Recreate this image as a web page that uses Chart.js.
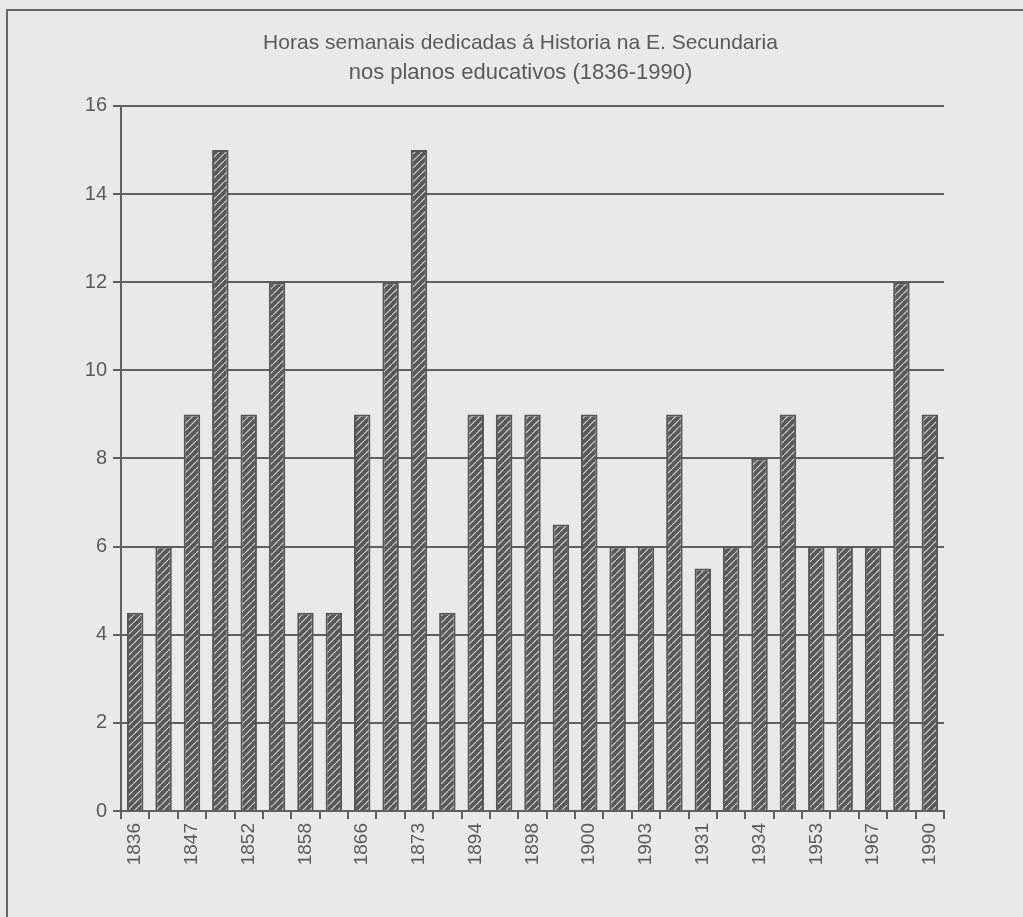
<!DOCTYPE html>
<html>
<head>
<meta charset="utf-8">
<title>Horas semanais de Historia</title>
<script src="https://cdn.jsdelivr.net/npm/chart.js@4/dist/chart.umd.min.js"></script>
<style>
    html, body {
        margin: 0;
        padding: 0;
        background: #e9e9e9;
        overflow: hidden;
    }
    #frame {
        position: absolute;
        left: 6px;
        top: 9px;
        width: 1100px;
        height: 1000px;
        border-left: 2px solid #666666;
        border-top: 2px solid #666666;
    }
    #wrap {
        position: absolute;
        left: 0;
        top: 0;
        width: 1023px;
        height: 917px;
    }
</style>
</head>
<body>
<div id="frame"></div>
<div id="wrap"><canvas id="myChart" width="1041" height="917"></canvas></div>

<script>
// plan years (only every other one is printed under the axis)
var years = ['1836', '', '1847', '', '1852', '', '1858', '', '1866', '', '1873', '', '1894', '',
    '1898', '', '1900', '', '1903', '', '1931', '', '1934', '', '1953', '', '1967', '', '1990'];

// weekly hours of History in each plan
var hours = [4.5, 6, 9, 15, 9, 12, 4.5, 4.5, 9, 12, 15, 4.5, 9, 9, 9, 6.5, 9, 6, 6, 9,
    5.5, 6, 8, 9, 6, 6, 6, 12, 9];

var yTicks = [0, 2, 4, 6, 8, 10, 12, 14, 16];

var titleLine = 'Horas semanais dedicadas á Historia na E. Secundaria';
var subtitleLine = 'nos planos educativos (1836-1990)';

var lineColor = '#606060';
var textColor = '#5a5a5a';
var fontName = "'Liberation Sans', Arial, sans-serif";

// hatched fill for the bars: dark grey with light diagonal strokes
function makeHatch() {
    var tile = document.createElement('canvas');
    tile.width = 7;
    tile.height = 7;
    var c = tile.getContext('2d');
    c.fillStyle = '#585858';
    c.fillRect(0, 0, 7, 7);
    c.strokeStyle = '#d2d2d2';
    c.lineWidth = 1.2;
    c.beginPath();
    c.moveTo(-1, 8);
    c.lineTo(8, -1);
    c.stroke();
    return c.createPattern(tile, 'repeat');
}

function drawChart() {
    var ctx = document.getElementById('myChart').getContext('2d');
    var hatch = makeHatch();

    var chart = new Chart(ctx, {
        type: 'bar',
        data: {
            labels: years,
            datasets: [{
                data: hours,
                backgroundColor: hatch,
                borderColor: '#555555',
                borderWidth: 2,
                borderSkipped: 'bottom',
                categoryPercentage: 1,
                barPercentage: 0.58
            }]
        },
        options: {
            responsive: false,
            animation: false,
            layout: { padding: 0 },
            plugins: {
                legend: { display: false },
                tooltip: { enabled: false },
                title: {
                    display: true,
                    text: titleLine,
                    color: textColor,
                    font: { family: fontName, size: 21, weight: 'normal', lineHeight: 1.3 },
                    padding: { top: 30, bottom: 1 }
                },
                subtitle: {
                    display: true,
                    text: subtitleLine,
                    color: textColor,
                    font: { family: fontName, size: 22, weight: 'normal', lineHeight: 1.3 },
                    padding: { top: 0, bottom: 19 }
                }
            },
            scales: {
                x: {
                    offset: true,
                    grid: {
                        offset: true,
                        drawOnChartArea: false,
                        color: lineColor,
                        lineWidth: 2,
                        tickLength: 8
                    },
                    border: { color: lineColor, width: 2 },
                    ticks: {
                        autoSkip: false,
                        minRotation: 90,
                        maxRotation: 90,
                        color: textColor,
                        padding: 4,
                        font: { family: fontName, size: 19 }
                    },
                    afterFit: function (scale) {
                        scale.height = 106;
                    }
                },
                y: {
                    min: 0,
                    max: 16,
                    afterBuildTicks: function (scale) {
                        scale.ticks = yTicks.map(function (v) { return { value: v }; });
                    },
                    grid: {
                        color: lineColor,
                        lineWidth: 2,
                        tickLength: 8
                    },
                    border: { color: lineColor, width: 2 },
                    ticks: {
                        color: textColor,
                        padding: 6,
                        font: { family: fontName, size: 20 }
                    },
                    afterFit: function (scale) {
                        scale.width = 121;
                    }
                },
                // empty axis that only keeps the margin on the right
                spacer: {
                    type: 'linear',
                    position: 'right',
                    grid: { display: false },
                    border: { display: false },
                    ticks: { display: false },
                    afterFit: function (scale) {
                        scale.width = 97;
                    }
                }
            }
        }
    });
}

drawChart();
</script>
</body>
</html>
